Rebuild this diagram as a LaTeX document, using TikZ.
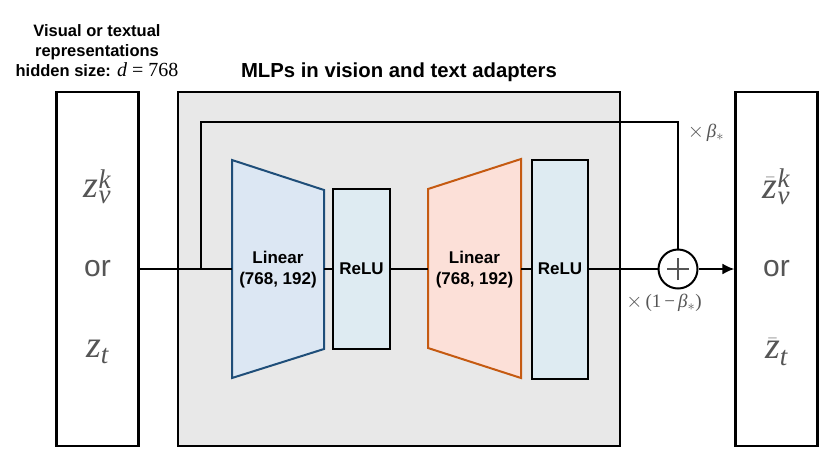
\documentclass[tikz,border=0pt]{standalone}
\usepackage{fontspec}
\setmainfont{Liberation Sans}
\newfontfamily\tnr{Liberation Serif}
\newcommand\tz[2]{\hbox{\fontsize{#2}{#2}\selectfont\tnr\mdseries\itshape #1}}
\newcommand\tr[2]{\hbox{\fontsize{#2}{#2}\selectfont\tnr\mdseries #1}}
\usetikzlibrary{arrows.meta}
\definecolor{panelgray}{HTML}{E8E8E8}
\definecolor{blueline}{HTML}{1F4E79}
\definecolor{bluefill}{HTML}{DCE7F3}
\definecolor{orangeline}{HTML}{C55A11}
\definecolor{orangefill}{HTML}{FCE0D8}
\definecolor{relufill}{HTML}{DEEBF2}
\definecolor{txtgray}{HTML}{555555}
\tikzset{
  conn/.style={line width=2pt, black},
  bigbox/.style={draw=black, line width=2.2pt, fill=white, minimum width=82pt, minimum height=354pt, inner sep=0pt},
  relubox/.style={draw=black, line width=2pt, fill=relufill, inner sep=0pt, font=\fontsize{17}{20}\selectfont\bfseries},
  anchorbox/.style={inner sep=0pt, minimum height=1pt},
  labeltxt/.style={font=\fontsize{17}{21}\selectfont\bfseries, align=center},
  coef/.style={text=txtgray, font=\fontsize{20}{22}\selectfont},
  bigmath/.style={text=txtgray, font=\fontsize{36}{40}\selectfont},
  ortxt/.style={text=txtgray, font=\fontsize{30}{36}\selectfont},
}
\begin{document}
\begin{tikzpicture}[x=1pt, y=-1pt]
\useasboundingbox (0,0) rectangle (830,467);
% panel
\node[draw=black, line width=2pt, fill=panelgray, minimum width=442pt, minimum height=354pt, inner sep=0pt] (panel) at (399,269) {};
\node[font=\fontsize{20.3}{24}\selectfont\bfseries] (title) at (399,72) {MLPs in vision and text adapters};
\node[labeltxt, font=\fontsize{16.5}{20}\selectfont\bfseries] (toplabel) at (97,51) {Visual or textual\\representations\\hidden size: \tz{d}{20}\tr{\hspace{5pt}=\hspace{5pt}768}{20}};
% input / output boxes
\node[bigbox] (inL) at (97.5,269) {};
\node[bigbox] (outR) at (776.5,269) {};
\node[bigmath] (zin1) at (97.5,187) {$\tz{z}{38}^{\tz{k}{27}}_{\tz{v}{27}}$};
\node[ortxt] (orin) at (97.5,269) {or};
\node[bigmath] (zin2) at (97.5,352) {$\tz{z}{38}_{\tz{t}{27}}$};
\node[bigmath] (zout1) at (776.5,187) {$\bar{\tz{z}{38}}^{\tz{k}{27}}_{\tz{v}{27}}$};
\node[ortxt] (orout) at (776.5,269) {or};
\node[bigmath] (zout2) at (776.5,352) {$\bar{\tz{z}{38}}_{\tz{t}{27}}$};
% trapezoids
\draw[line width=2pt, draw=blueline, fill=bluefill] (232,160) -- (324,190) -- (324,349) -- (232,378) -- cycle;
\draw[line width=2pt, draw=orangeline, fill=orangefill] (428,189) -- (521,159) -- (521,378) -- (428,348) -- cycle;
\node[anchorbox, minimum width=92pt] (lin1) at (278,269) {};
\node[anchorbox, minimum width=93pt] (lin2) at (474.5,269) {};
\node[labeltxt] (lin1txt) at (278,270) {Linear\\(768, 192)};
\node[labeltxt] (lin2txt) at (474.5,270) {Linear\\(768, 192)};
\node[relubox, minimum width=57pt, minimum height=160pt] (relu1) at (361.5,269) {ReLU};
\node[relubox, minimum width=56pt, minimum height=219pt] (relu2) at (560,269) {ReLU};
% sum
\node[circle, draw=black, line width=2pt, fill=white, minimum size=39pt, inner sep=0pt,
  path picture={\draw[line width=1.6pt, txtgray] ([xshift=-11pt]path picture bounding box.center) -- ([xshift=11pt]path picture bounding box.center);
                \draw[line width=1.6pt, txtgray] ([yshift=-11pt]path picture bounding box.center) -- ([yshift=11pt]path picture bounding box.center);}] (plus) at (678,269) {};
% connectors
\coordinate (split) at (201,269);
\coordinate (skiptop) at (201,122);
\draw[conn] (inL.east) -- (lin1.west);
\draw[conn] (split) -- (skiptop) -| (plus.north);
\draw[conn] (lin1.east) -- (relu1.west);
\draw[conn] (relu1.east) -- (lin2.west);
\draw[conn] (lin2.east) -- (relu2.west);
\draw[conn] (relu2.east) -- (plus.west);
\draw[conn, -{Latex[length=12pt, width=11pt]}] (plus.east) -- (outR.west);
% coefficients
\node[coef] (cbeta) at (706,133) {$\times$\hspace{3pt}\tz{β}{19}$_*$};
\node[coef] (cone) at (664,303) {$\times$\hspace{3pt}{\tnr\fontsize{19}{20}\selectfont (1\hspace{3pt}−\hspace{3pt}}\tz{β}{19}$_*${\tnr\fontsize{19}{20}\selectfont )}};
\end{tikzpicture}
\end{document}
